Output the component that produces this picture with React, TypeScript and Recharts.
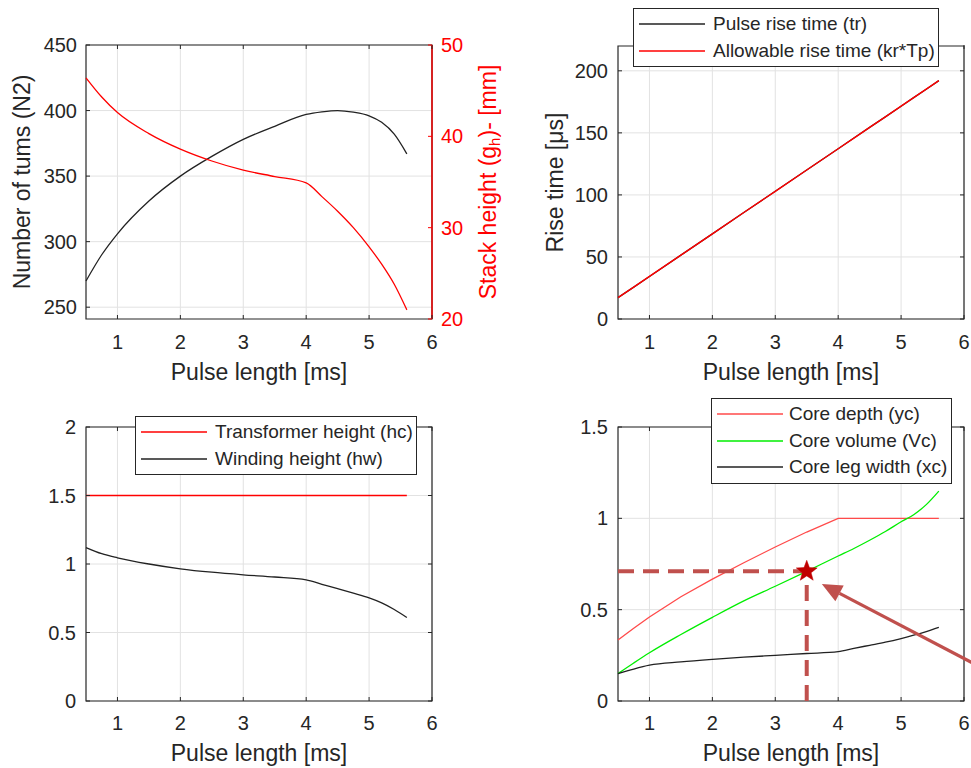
import React from "react";
import {
  LineChart,
  ComposedChart,
  Line,
  Scatter,
  XAxis,
  YAxis,
  CartesianGrid,
  ReferenceArea,
  ReferenceLine,
  Legend,
} from "recharts";

// pulse length sweep [ms]
const pulseLength = [0.5, 0.75, 1, 1.5, 2, 2.5, 3, 3.5, 4, 4.25, 4.5, 4.75, 5, 5.2, 5.4, 5.6];

// turns and stack height
const turnsN2 = [270, 290, 306, 331, 350, 365, 378, 388, 397, 399, 400, 398.8, 396, 391, 382, 367];
const stackHeight = [46.4, 44.3, 42.6, 40.3, 38.6, 37.3, 36.3, 35.6, 34.9, 33.4, 31.8, 30.0, 27.9, 26.0, 23.8, 21.0];

// rise times [us]
const pulseRise = [17.2, 25.7, 34.3, 51.5, 68.6, 85.8, 102.9, 120.1, 137.2, 145.8, 154.4, 162.9, 171.5, 178.4, 185.2, 192.1];
const allowableRise = [17.2, 25.7, 34.3, 51.5, 68.6, 85.8, 102.9, 120.1, 137.2, 145.8, 154.4, 162.9, 171.5, 178.4, 185.2, 192.1];

// heights
const transformerHeight = [1.5, 1.5, 1.5, 1.5, 1.5, 1.5, 1.5, 1.5, 1.5, 1.5, 1.5, 1.5, 1.5, 1.5, 1.5, 1.5];
const windingHeight = [1.12, 1.075, 1.045, 1.0, 0.965, 0.94, 0.921, 0.905, 0.884, 0.852, 0.82, 0.787, 0.752, 0.716, 0.668, 0.61];

// core dimensions
const coreDepth = [0.334, 0.398, 0.46, 0.571, 0.667, 0.757, 0.843, 0.925, 1, 1, 1, 1, 1, 1, 1, 1];
const coreVolume = [0.15, 0.208, 0.264, 0.364, 0.458, 0.548, 0.628, 0.71, 0.794, 0.835, 0.88, 0.928, 0.981, 1.02, 1.075, 1.149];
const coreLegWidth = [0.15, 0.175, 0.196, 0.214, 0.228, 0.24, 0.25, 0.26, 0.27, 0.288, 0.305, 0.322, 0.342, 0.36, 0.38, 0.403];

// selected design point
const designPoint = [{ t: 3.5, v: 0.71 }];

const xTicks = [1, 2, 3, 4, 5, 6];
const turnsTicks = [250, 300, 350, 400, 450];
const stackTicks = [20, 30, 40, 50];
const riseTicks = [0, 50, 100, 150, 200];
const heightTicks = [0, 0.5, 1, 1.5, 2];
const coreTicks = [0, 0.5, 1, 1.5];

const FONT = '"Liberation Sans", Arial, Helvetica, sans-serif';
const INK = "#262626";
const GRID = "#e2e2e2";
const ACCENT = "#c0504d";
const RED = "#ff0000";
const LIGHT_RED = "#ff4a4a";
const GREEN = "#00ee00";
const BLACK = "#222222";

// plot box size shared by all four panels
const PLOT_W = 346;
const PLOT_H = 274;
const TICK_LEN = 4;

const turnsData = pulseLength.map((t, i) => ({ t, turns: turnsN2[i], stack: stackHeight[i] }));
const riseData = pulseLength.map((t, i) => ({ t, tr: pulseRise[i], allow: allowableRise[i] }));
const heightData = pulseLength.map((t, i) => ({ t, hc: transformerHeight[i], hw: windingHeight[i] }));
const coreData = pulseLength.map((t, i) => ({ t, yc: coreDepth[i], vc: coreVolume[i], xc: coreLegWidth[i] }));

const riseLegend = [
  { name: "Pulse rise time (tr)", color: BLACK },
  { name: "Allowable rise time (kr*Tp)", color: RED },
];
const heightLegend = [
  { name: "Transformer height (hc)", color: RED },
  { name: "Winding height (hw)", color: BLACK },
];
const coreLegend = [
  { name: "Core depth (yc)", color: LIGHT_RED },
  { name: "Core volume (Vc)", color: GREEN },
  { name: "Core leg width (xc)", color: BLACK },
];

// x tick: label below, short inward marks on bottom and top edges
function XTick({ x, y, payload, margin }: any) {
  const ay = y - margin;
  return (
    <g>
      <line x1={x} x2={x} y1={ay} y2={ay - TICK_LEN} stroke={INK} />
      <line x1={x} x2={x} y1={ay - PLOT_H} y2={ay - PLOT_H + TICK_LEN} stroke={INK} />
      <text x={x} y={y} dy="0.71em" textAnchor="middle" fontSize={20} fontFamily={FONT} fill={INK}>
        {payload.value}
      </text>
    </g>
  );
}

// y tick: label outside, inward mark on its own side (and mirrored when the box has one scale)
function YTick({ x, y, payload, margin, side, color, mirror }: any) {
  const left = side === "left";
  const ax = left ? x + margin : x - margin;
  const dir = left ? 1 : -1;
  return (
    <g>
      <line x1={ax} x2={ax + dir * TICK_LEN} y1={y} y2={y} stroke={color} />
      {mirror && (
        <line x1={ax + dir * PLOT_W} x2={ax + dir * (PLOT_W - TICK_LEN)} y1={y} y2={y} stroke={color} />
      )}
      <text
        x={x}
        y={y}
        dy="0.355em"
        textAnchor={left ? "end" : "start"}
        fontSize={20}
        fontFamily={FONT}
        fill={color}
      >
        {payload.value}
      </text>
    </g>
  );
}

function VTitle({ viewBox, dx, color, children }: any) {
  const x = viewBox.x + dx;
  const y = viewBox.y + viewBox.height / 2;
  return (
    <text
      x={x}
      y={y}
      transform={`rotate(-90, ${x}, ${y})`}
      textAnchor="middle"
      dominantBaseline="central"
      fontSize={23}
      fontFamily={FONT}
      fill={color}
    >
      {children}
    </text>
  );
}

function xTitle(offset: number) {
  return {
    value: "Pulse length [ms]",
    position: "insideBottom" as const,
    offset,
    style: { fontSize: 23, fill: INK, fontFamily: FONT },
  };
}

function BoxLegend({ items, width, sample, textGap }: any) {
  return (
    <div
      style={{
        width,
        boxSizing: "border-box",
        border: `1px solid ${INK}`,
        background: "#fff",
        padding: "2px 0 2px 5px",
        fontFamily: FONT,
        fontSize: 19,
        color: INK,
      }}
    >
      {items.map((e: any) => (
        <div key={e.name} style={{ display: "flex", alignItems: "center", height: 26.5, whiteSpace: "nowrap" }}>
          <svg width={sample} height={4} style={{ marginRight: textGap }}>
            <line x1={0} x2={sample} y1={2} y2={2} stroke={e.color} strokeWidth={1.3} />
          </svg>
          <span>{e.name}</span>
        </div>
      ))}
    </div>
  );
}

function Star({ cx, cy }: any) {
  const outer = 11;
  const inner = 4.6;
  const pts: string[] = [];
  for (let k = 0; k < 10; k++) {
    const r = k % 2 === 0 ? outer : inner;
    const a = -Math.PI / 2 + (k * Math.PI) / 5;
    pts.push(`${cx + r * Math.cos(a)},${cy + r * Math.sin(a)}`);
  }
  return <polygon points={pts.join(" ")} fill="#c00000" stroke="#c00000" strokeWidth={0.5} />;
}

function Arrow({ x1, y1, x2, y2 }: any) {
  const ang = Math.atan2(y2 - y1, x2 - x1);
  const len = 20;
  const half = 9;
  const bx = x2 - len * Math.cos(ang);
  const by = y2 - len * Math.sin(ang);
  const nx = -Math.sin(ang);
  const ny = Math.cos(ang);
  return (
    <g>
      <line x1={x1} y1={y1} x2={bx} y2={by} stroke={ACCENT} strokeWidth={3.2} />
      <polygon
        points={`${x2},${y2} ${bx + half * nx},${by + half * ny} ${bx - half * nx},${by - half * ny}`}
        fill={ACCENT}
      />
    </g>
  );
}

function TurnsPanel() {
  return (
    <LineChart width={510} height={390} data={turnsData} margin={{ top: 45, right: 10, bottom: 0, left: 0 }}>
      <CartesianGrid stroke={GRID} yAxisId="left" horizontalValues={turnsTicks} verticalValues={xTicks} />
      <XAxis
        dataKey="t"
        type="number"
        domain={[0.5, 6]}
        ticks={xTicks}
        height={71}
        tickLine={false}
        tickSize={0}
        tickMargin={16}
        axisLine={false}
        tick={(p: any) => <XTick {...p} margin={16} />}
        label={xTitle(10)}
      />
      <YAxis
        yAxisId="left"
        type="number"
        domain={[241, 450]}
        ticks={turnsTicks}
        width={86}
        tickLine={false}
        tickSize={0}
        tickMargin={9}
        axisLine={false}
        tick={(p: any) => <YTick {...p} margin={9} side="left" color={INK} />}
        label={(p: any) => (
          <VTitle viewBox={p.viewBox} dx={22} color={INK}>
            Number of tums (N2)
          </VTitle>
        )}
      />
      <YAxis
        yAxisId="right"
        orientation="right"
        type="number"
        domain={[20, 50]}
        ticks={stackTicks}
        width={68}
        tickLine={false}
        tickSize={0}
        tickMargin={9}
        axisLine={false}
        tick={(p: any) => <YTick {...p} margin={9} side="right" color={RED} />}
        label={(p: any) => (
          <VTitle viewBox={p.viewBox} dx={56} color={RED}>
            Stack height (g<tspan dy={6} fontSize={15}>h</tspan>
            <tspan dy={-6}>)- [mm]</tspan>
          </VTitle>
        )}
      />
      <ReferenceArea yAxisId="left" x1={0.5} x2={6} y1={241} y2={450} fill="none" stroke={INK} strokeWidth={1.2} />
      <ReferenceLine yAxisId="left" x={6} stroke={RED} strokeWidth={1.4} />
      <Line yAxisId="left" dataKey="turns" type="monotone" stroke={BLACK} strokeWidth={1.3} dot={false} isAnimationActive={false} />
      <Line yAxisId="right" dataKey="stack" type="monotone" stroke={RED} strokeWidth={1.3} dot={false} isAnimationActive={false} />
    </LineChart>
  );
}

function RisePanel() {
  return (
    <LineChart width={471} height={390} data={riseData} margin={{ top: 46, right: 7, bottom: 0, left: 0 }}>
      <CartesianGrid stroke={GRID} horizontalValues={riseTicks} verticalValues={xTicks} />
      <XAxis
        dataKey="t"
        type="number"
        domain={[0.5, 6]}
        ticks={xTicks}
        height={71}
        tickLine={false}
        tickSize={0}
        tickMargin={16}
        axisLine={false}
        tick={(p: any) => <XTick {...p} margin={16} />}
        label={xTitle(10)}
      />
      <YAxis
        type="number"
        domain={[0, 220]}
        ticks={riseTicks}
        width={118}
        tickLine={false}
        tickSize={0}
        tickMargin={10}
        axisLine={false}
        tick={(p: any) => <YTick {...p} margin={10} side="left" color={INK} mirror />}
        label={(p: any) => (
          <VTitle viewBox={p.viewBox} dx={55} color={INK}>
            Rise time [μs]
          </VTitle>
        )}
      />
      <ReferenceArea x1={0.5} x2={6} y1={0} y2={220} fill="none" stroke={INK} strokeWidth={1.2} />
      <Line dataKey="tr" type="linear" stroke={BLACK} strokeWidth={1.3} dot={false} isAnimationActive={false} />
      <Line dataKey="allow" type="linear" stroke={RED} strokeWidth={1.4} dot={false} isAnimationActive={false} />
      <Legend
        layout="horizontal"
        verticalAlign="middle"
        align="center"
        wrapperStyle={{ left: 133, top: 8, width: 306 }}
        content={() => <BoxLegend items={riseLegend} width={306} sample={66} textGap={8} />}
      />
    </LineChart>
  );
}

function HeightPanel() {
  return (
    <LineChart width={500} height={388} data={heightData} margin={{ top: 47, right: 68, bottom: 0, left: 0 }}>
      <CartesianGrid stroke={GRID} horizontalValues={heightTicks} verticalValues={xTicks} />
      <XAxis
        dataKey="t"
        type="number"
        domain={[0.5, 6]}
        ticks={xTicks}
        height={67}
        tickLine={false}
        tickSize={0}
        tickMargin={15}
        axisLine={false}
        tick={(p: any) => <XTick {...p} margin={15} />}
        label={xTitle(7)}
      />
      <YAxis
        type="number"
        domain={[0, 2]}
        ticks={heightTicks}
        width={86}
        tickLine={false}
        tickSize={0}
        tickMargin={10}
        axisLine={false}
        tick={(p: any) => <YTick {...p} margin={10} side="left" color={INK} mirror />}
      />
      <ReferenceArea x1={0.5} x2={6} y1={0} y2={2} fill="none" stroke={INK} strokeWidth={1.2} />
      <Line dataKey="hc" type="linear" stroke={RED} strokeWidth={1.3} dot={false} isAnimationActive={false} />
      <Line dataKey="hw" type="monotone" stroke={BLACK} strokeWidth={1.3} dot={false} isAnimationActive={false} />
      <Legend
        layout="horizontal"
        verticalAlign="middle"
        align="center"
        wrapperStyle={{ left: 135, top: 36, width: 282 }}
        content={() => <BoxLegend items={heightLegend} width={282} sample={66} textGap={8} />}
      />
    </LineChart>
  );
}

function CorePanel() {
  const pt = designPoint[0];
  return (
    <ComposedChart width={471} height={388} data={coreData} margin={{ top: 47, right: 7, bottom: 0, left: 0 }}>
      <CartesianGrid stroke={GRID} horizontalValues={coreTicks} verticalValues={xTicks} />
      <XAxis
        dataKey="t"
        type="number"
        domain={[0.5, 6]}
        ticks={xTicks}
        height={67}
        tickLine={false}
        tickSize={0}
        tickMargin={15}
        axisLine={false}
        tick={(p: any) => <XTick {...p} margin={15} />}
        label={xTitle(7)}
      />
      <YAxis
        type="number"
        domain={[0, 1.5]}
        ticks={coreTicks}
        width={118}
        tickLine={false}
        tickSize={0}
        tickMargin={10}
        axisLine={false}
        tick={(p: any) => <YTick {...p} margin={10} side="left" color={INK} mirror />}
      />
      <ReferenceArea x1={0.5} x2={6} y1={0} y2={1.5} fill="none" stroke={INK} strokeWidth={1.2} />
      <Line dataKey="yc" type="linear" stroke={LIGHT_RED} strokeWidth={1.3} dot={false} isAnimationActive={false} />
      <Line dataKey="vc" type="monotone" stroke={GREEN} strokeWidth={1.3} dot={false} isAnimationActive={false} />
      <Line dataKey="xc" type="monotone" stroke={BLACK} strokeWidth={1.3} dot={false} isAnimationActive={false} />
      <ReferenceLine
        segment={[{ x: 0.5, y: pt.v }, { x: pt.t, y: pt.v }]}
        stroke={ACCENT}
        strokeWidth={4}
        strokeDasharray="16 9"
      />
      <ReferenceLine
        segment={[{ x: pt.t, y: 0 }, { x: pt.t, y: pt.v }]}
        stroke={ACCENT}
        strokeWidth={4}
        strokeDasharray="16 9"
      />
      <ReferenceLine
        segment={[{ x: 6.2, y: 0.197 }, { x: 3.74, y: 0.64 }]}
        ifOverflow="visible"
        shape={(p: any) => <Arrow {...p} />}
      />
      <Scatter
        data={designPoint}
        dataKey="v"
        legendType="none"
        isAnimationActive={false}
        shape={(p: any) => <Star cx={p.cx} cy={p.cy} />}
      />
      <Legend
        layout="horizontal"
        verticalAlign="middle"
        align="center"
        wrapperStyle={{ left: 211, top: 18, width: 241 }}
        content={() => <BoxLegend items={coreLegend} width={241} sample={66} textGap={6} />}
      />
    </ComposedChart>
  );
}

export default function App() {
  return (
    <div style={{ position: "absolute", left: 0, top: 0, width: 971, height: 768, background: "#fff", overflow: "hidden" }}>
      <div style={{ position: "absolute", left: 0, top: 0 }}>
        <TurnsPanel />
      </div>
      <div style={{ position: "absolute", left: 500, top: 0 }}>
        <RisePanel />
      </div>
      <div style={{ position: "absolute", left: 0, top: 380 }}>
        <HeightPanel />
      </div>
      <div style={{ position: "absolute", left: 500, top: 380 }}>
        <CorePanel />
      </div>
    </div>
  );
}
